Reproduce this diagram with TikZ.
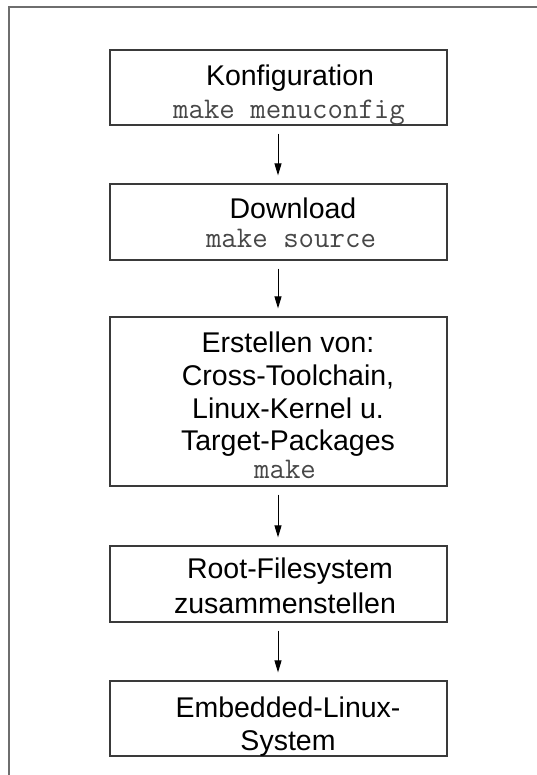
\documentclass[tikz,border=0pt]{standalone}
\usepackage{fontspec}
\setmainfont{Liberation Sans}
\usetikzlibrary{arrows.meta}
\definecolor{framegray}{HTML}{6E6E6E}
\definecolor{boxgray}{HTML}{3A3A3A}
\tikzset{
  stepbox/.style={draw=boxgray, line width=1.2pt, minimum width=337pt, inner sep=0pt},
  lbl/.style={anchor=base, inner sep=0pt, font=\fontsize{28.5}{33}\selectfont},
  code/.style={anchor=base, inner sep=0pt, font=\fontsize{30}{34}\ttfamily\selectfont, text=black!72},
  flow/.style={line width=1pt, -{Triangle[length=12pt,width=7pt]}, shorten <=8pt, shorten >=8pt}
}
\begin{document}
\begin{tikzpicture}[x=1pt,y=-1pt]
\useasboundingbox (0,0) rectangle (537,775);
\draw[framegray, line width=1.5pt] (9,775) -- (9,7) -- (537,7);
% boxes
\node[stepbox, minimum height=75pt] (b1) at (278.5,87.5) {};
\node[stepbox, minimum height=76pt] (b2) at (278.5,222) {};
\node[stepbox, minimum height=169pt] (b3) at (278.5,401.5) {};
\node[stepbox, minimum height=76pt] (b4) at (278.5,584) {};
\node[stepbox, minimum height=75pt] (b5) at (278.5,718.5) {};
% texts
\node[lbl] (t1a) at (290,86) {Konfiguration};
\node[code] (t1b) at (289,119) {make menuconfig};
\node[lbl] (t2a) at (293,219) {Download};
\node[code] (t2b) at (291,248) {make source};
\node[lbl] (t3a) at (288,352) {Erstellen von:};
\node[lbl] (t3b) at (288,385) {Cross-Toolchain,};
\node[lbl] (t3c) at (288,418) {Linux-Kernel u.};
\node[lbl] (t3d) at (288,450) {Target-Packages};
\node[code] (t3e) at (285,478) {make};
\node[lbl] (t4a) at (290,578) {Root-Filesystem};
\node[lbl] (t4b) at (285,613) {zusammenstellen};
\node[lbl] (t5a) at (288,717) {Embedded-Linux-};
\node[lbl] (t5b) at (288,750) {System};
% arrows
\draw[flow] (b1.south -| 278,0) -- (b2.north -| 278,0);
\draw[flow] (b2.south -| 278,0) -- (b3.north -| 278,0);
\draw[flow] (b3.south -| 278,0) -- (b4.north -| 278,0);
\draw[flow] (b4.south -| 278,0) -- (b5.north -| 278,0);
\end{tikzpicture}
\end{document}
